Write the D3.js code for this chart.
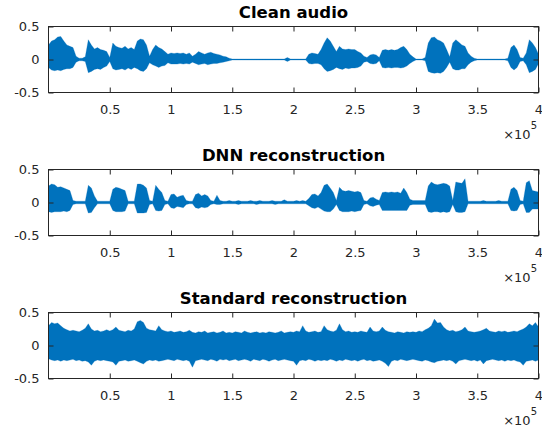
<!DOCTYPE html>
<html>
<head>
<meta charset="utf-8">
<script src="https://cdn.jsdelivr.net/npm/d3@7"></script>
<style>
  html, body { margin: 0; padding: 0; background: #fff; }
  svg { display: block; }
  text { font-family: "DejaVu Sans", sans-serif; }
</style>
</head>
<body>
<svg id="chart" width="542" height="431"></svg>
<script>
// ---- Data (envelope of each waveform, one value per 2500 samples) ----
const sampleStep = 2500;
const titles = ["Clean audio", "DNN reconstruction", "Standard reconstruction"];
const xTickValues = [50000, 100000, 150000, 200000, 250000, 300000, 350000, 400000];
const xTickLabels = ["0.5", "1", "1.5", "2", "2.5", "3", "3.5", "4"];
const yTickValues = [-0.5, 0, 0.5];
const yTickLabels = ["-0.5", "0", "0.5"];
const xExponentLabel = "5";

const cleanUpper = [
  .22,.28,.30,.34,.35,.28,.22,.20,.18,.05,
  .02,.02,.04,.30,.22,.16,.18,.15,.14,.12,
  .03,.25,.20,.18,.17,.20,.16,.18,.15,.28,
  .31,.30,.22,.05,.15,.22,.18,.16,.12,.08,
  .10,.09,.10,.09,.10,.08,.10,.05,.08,.12,
  .10,.08,.10,.11,.09,.08,.07,.05,.04,.02,
  .008,.008,.008,.008,.008,.008,.008,.008,.008,.008,
  .008,.008,.008,.008,.008,.008,.008,.008,.03,.008,
  .008,.008,.008,.008,.008,.08,.10,.09,.08,.15,
  .25,.33,.28,.20,.12,.20,.16,.15,.16,.15,
  .15,.12,.10,.05,.03,.07,.08,.07,.03,.14,
  .15,.14,.15,.14,.15,.18,.20,.15,.08,.04,
  .008,.008,.008,.03,.25,.33,.34,.30,.28,.25,
  .15,.04,.25,.30,.26,.22,.20,.10,.05,.02,
  .008,.008,.008,.008,.008,.008,.008,.008,.008,.008,
  .02,.18,.22,.15,.03,.02,.10,.30,.25,.18,
  .08
];
const cleanLower = [
  -.12,-.16,-.17,-.16,-.17,-.15,-.14,-.14,-.12,-.04,
  -.02,-.02,-.03,-.20,-.18,-.15,-.14,-.15,-.12,-.10,
  -.03,-.14,-.16,-.15,-.14,-.16,-.13,-.15,-.12,-.14,
  -.17,-.18,-.14,-.05,-.08,-.10,-.12,-.10,-.09,-.05,
  -.07,-.07,-.07,-.06,-.07,-.06,-.07,-.04,-.06,-.08,
  -.07,-.06,-.08,-.07,-.06,-.06,-.05,-.04,-.03,-.02,
  -.008,-.008,-.008,-.008,-.008,-.008,-.008,-.008,-.008,-.008,
  -.008,-.008,-.008,-.008,-.008,-.008,-.008,-.008,-.03,-.008,
  -.008,-.008,-.008,-.008,-.008,-.06,-.07,-.06,-.06,-.08,
  -.14,-.18,-.17,-.15,-.12,-.14,-.15,-.13,-.14,-.13,
  -.13,-.12,-.10,-.04,-.03,-.06,-.07,-.06,-.02,-.12,
  -.13,-.12,-.13,-.12,-.12,-.13,-.12,-.10,-.06,-.03,
  -.008,-.008,-.008,-.02,-.18,-.20,-.21,-.20,-.21,-.18,
  -.12,-.04,-.14,-.16,-.16,-.14,-.14,-.08,-.04,-.02,
  -.008,-.008,-.008,-.008,-.008,-.008,-.008,-.008,-.008,-.008,
  -.02,-.12,-.16,-.12,-.03,-.02,-.08,-.20,-.18,-.15,
  -.06
];
const dnnUpper = [
  .25,.28,.27,.23,.24,.22,.20,.18,.03,.02,
  .02,.02,.02,.26,.22,.10,.02,.02,.02,.02,
  .02,.20,.23,.22,.20,.18,.02,.02,.02,.28,
  .28,.26,.22,.03,.02,.26,.20,.15,.03,.02,
  .12,.13,.08,.10,.11,.03,.02,.02,.12,.14,
  .10,.12,.10,.03,.02,.11,.03,.02,.02,.03,
  .02,.02,.03,.02,.02,.02,.03,.02,.02,.03,
  .02,.02,.02,.03,.02,.02,.02,.04,.02,.02,
  .02,.03,.02,.03,.02,.06,.12,.13,.10,.15,
  .26,.28,.22,.15,.03,.23,.18,.17,.18,.17,
  .16,.17,.15,.03,.02,.07,.08,.05,.03,.15,
  .16,.15,.16,.15,.16,.14,.22,.15,.05,.03,
  .03,.03,.03,.03,.25,.31,.28,.27,.28,.29,
  .28,.25,.03,.31,.30,.29,.36,.02,.02,.02,
  .02,.02,.03,.02,.02,.02,.02,.03,.02,.02,
  .02,.20,.23,.18,.03,.02,.30,.33,.18,.17,
  .16
];
const dnnLower = [
  -.14,-.15,-.14,-.14,-.14,-.13,-.14,-.12,-.03,-.02,
  -.02,-.02,-.02,-.16,-.15,-.08,-.02,-.02,-.02,-.02,
  -.02,-.12,-.14,-.14,-.14,-.13,-.02,-.02,-.02,-.16,
  -.16,-.16,-.15,-.03,-.02,-.12,-.13,-.12,-.03,-.02,
  -.08,-.09,-.06,-.07,-.08,-.03,-.02,-.02,-.08,-.09,
  -.07,-.08,-.07,-.03,-.02,-.03,-.03,-.02,-.02,-.02,
  -.02,-.02,-.03,-.02,-.02,-.02,-.02,-.02,-.03,-.02,
  -.02,-.02,-.02,-.02,-.03,-.02,-.02,-.02,-.02,-.02,
  -.02,-.02,-.02,-.02,-.02,-.05,-.08,-.09,-.07,-.10,
  -.13,-.14,-.14,-.10,-.03,-.12,-.14,-.14,-.14,-.13,
  -.14,-.13,-.12,-.03,-.02,-.05,-.06,-.04,-.03,-.12,
  -.12,-.12,-.12,-.12,-.12,-.12,-.12,-.12,-.04,-.03,
  -.03,-.03,-.03,-.03,-.14,-.15,-.14,-.14,-.15,-.14,
  -.15,-.14,-.03,-.14,-.15,-.15,-.14,-.02,-.02,-.02,
  -.02,-.02,-.02,-.02,-.02,-.02,-.02,-.02,-.02,-.02,
  -.02,-.12,-.13,-.12,-.03,-.02,-.15,-.15,-.10,-.10,
  -.10
];
const standardUpper = [
  .30,.35,.33,.34,.30,.26,.24,.22,.23,.22,
  .21,.23,.26,.33,.25,.22,.23,.21,.22,.24,
  .22,.24,.28,.23,.22,.21,.23,.22,.25,.36,
  .38,.35,.26,.24,.23,.22,.30,.24,.22,.21,
  .22,.20,.21,.22,.20,.21,.23,.20,.19,.21,
  .20,.22,.19,.20,.21,.19,.20,.22,.19,.20,
  .19,.21,.20,.19,.22,.20,.19,.20,.21,.19,
  .20,.19,.21,.20,.19,.20,.22,.19,.20,.21,
  .20,.22,.21,.30,.22,.20,.21,.22,.20,.21,
  .30,.24,.22,.21,.23,.33,.24,.21,.22,.20,
  .21,.20,.22,.21,.20,.28,.22,.21,.22,.28,
  .23,.21,.20,.19,.21,.20,.19,.21,.20,.21,
  .20,.22,.21,.24,.26,.30,.40,.34,.35,.28,
  .24,.22,.23,.21,.22,.24,.28,.22,.21,.20,
  .21,.22,.24,.26,.22,.21,.20,.22,.21,.22,
  .20,.21,.22,.21,.23,.25,.28,.33,.30,.35,
  .28
];
const standardLower = [
  -.20,-.22,-.23,-.22,-.24,-.22,-.23,-.22,-.21,-.23,
  -.22,-.24,-.23,-.25,-.30,-.24,-.22,-.23,-.22,-.23,
  -.24,-.25,-.30,-.24,-.23,-.22,-.24,-.23,-.22,-.24,
  -.26,-.28,-.24,-.22,-.23,-.22,-.24,-.23,-.22,-.21,
  -.22,-.23,-.21,-.22,-.23,-.22,-.24,-.33,-.23,-.22,
  -.21,-.22,-.23,-.21,-.22,-.24,-.21,-.22,-.21,-.23,
  -.22,-.21,-.23,-.22,-.21,-.22,-.24,-.21,-.22,-.23,
  -.21,-.22,-.24,-.22,-.21,-.23,-.22,-.21,-.22,-.23,
  -.24,-.30,-.23,-.22,-.23,-.21,-.22,-.24,-.22,-.23,
  -.22,-.23,-.21,-.22,-.24,-.22,-.23,-.21,-.22,-.23,
  -.22,-.24,-.22,-.21,-.23,-.22,-.24,-.23,-.22,-.24,
  -.27,-.32,-.24,-.22,-.23,-.21,-.22,-.23,-.22,-.21,
  -.22,-.23,-.24,-.22,-.23,-.25,-.26,-.24,-.23,-.22,
  -.23,-.22,-.24,-.28,-.23,-.22,-.21,-.22,-.23,-.22,
  -.24,-.22,-.28,-.23,-.22,-.21,-.22,-.23,-.22,-.24,
  -.22,-.23,-.22,-.24,-.25,-.30,-.24,-.23,-.22,-.24,
  -.22
];

// ---- Layout ----
const svg = d3.select("#chart");
const left = 48.5, right = 538.5, plotH = 66;
const tops = [26.5, 169.5, 312.5];
const axisColor = "#262626";
const waveColor = "#0072BD";
const series = [
  { title: titles[0], upper: cleanUpper, lower: cleanLower },
  { title: titles[1], upper: dnnUpper, lower: dnnLower },
  { title: titles[2], upper: standardUpper, lower: standardLower }
];

const x = d3.scaleLinear().domain([0, 400000]).range([left, right]);

series.forEach((s, i) => {
  const top = tops[i], bottom = top + plotH;
  const y = d3.scaleLinear().domain([-0.5, 0.5]).range([bottom, top]);
  const g = svg.append("g");

  const clipId = "clip" + i;
  svg.append("clipPath").attr("id", clipId)
    .append("rect").attr("x", left).attr("y", top).attr("width", right - left).attr("height", plotH);

  const pts = s.upper.map((u, k) => ({ pos: k * sampleStep, u: u, l: s.lower[k] }));
  const area = d3.area()
    .x(d => x(d.pos))
    .y0(d => y(d.l))
    .y1(d => y(d.u));
  g.append("path")
    .datum(pts)
    .attr("clip-path", `url(#${clipId})`)
    .attr("d", area)
    .attr("fill", waveColor)
    .attr("stroke", waveColor)
    .attr("stroke-width", 0.25);

  // Axes (ticks inward, box on all sides)
  const fmtX = d => xTickLabels[xTickValues.indexOf(d)];
  const fmtY = d => yTickLabels[yTickValues.indexOf(d)];
  const xb = g.append("g").attr("transform", `translate(0,${bottom})`)
    .call(d3.axisBottom(x).tickValues(xTickValues).tickFormat(fmtX).tickSizeInner(-5).tickSizeOuter(0).tickPadding(12));
  const xt = g.append("g").attr("transform", `translate(0,${top})`)
    .call(d3.axisTop(x).tickValues(xTickValues).tickFormat("").tickSizeInner(-5).tickSizeOuter(0));
  const yl = g.append("g").attr("transform", `translate(${left},0)`)
    .call(d3.axisLeft(y).tickValues(yTickValues).tickFormat(fmtY).tickSizeInner(-5).tickSizeOuter(0).tickPadding(9));
  const yr = g.append("g").attr("transform", `translate(${right},0)`)
    .call(d3.axisRight(y).tickValues(yTickValues).tickFormat("").tickSizeInner(-5).tickSizeOuter(0));
  [xb, xt, yl, yr].forEach(a => {
    a.select(".domain").remove();
    a.selectAll("line").attr("stroke", axisColor).attr("stroke-width", 1);
    a.selectAll("text").attr("fill", axisColor).style("font-size", "13px").style("font-family", "DejaVu Sans, sans-serif");
  });
  xb.selectAll("text").attr("dy", "0.71em");

  g.append("rect")
    .attr("x", left).attr("y", top).attr("width", right - left).attr("height", plotH)
    .attr("fill", "none").attr("stroke", axisColor).attr("stroke-width", 1);

  // Title
  g.append("text")
    .attr("x", (left + right) / 2).attr("y", top - 8.5)
    .attr("text-anchor", "middle")
    .style("font-size", "16.5px").style("font-weight", "bold")
    .attr("fill", "#000")
    .text(s.title);

  // Exponent label ×10^5
  const ex = g.append("text")
    .attr("x", 537).attr("y", bottom + 46.5)
    .attr("text-anchor", "end")
    .attr("fill", axisColor)
    .style("font-size", "13px");
  ex.append("tspan").text("\u00d710");
  ex.append("tspan").attr("dy", -10).style("font-size", "10px").text(xExponentLabel);
});
</script>
</body>
</html>
